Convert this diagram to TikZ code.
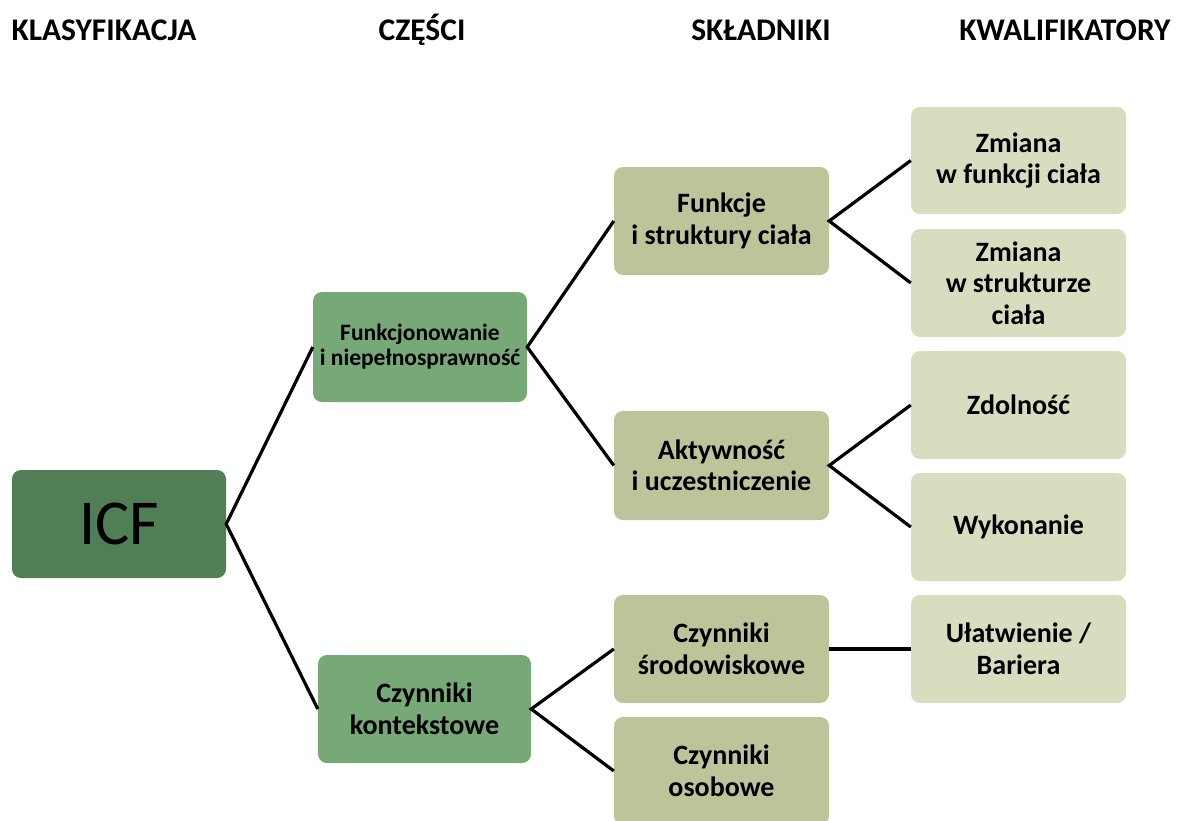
\documentclass[tikz,border=0pt]{standalone}
\usepackage{fontspec}
\setmainfont{Carlito}
\definecolor{icfgreen}{HTML}{507F55}
\definecolor{midgreen}{HTML}{77A877}
\definecolor{olive}{HTML}{BEC39A}
\definecolor{lightolive}{HTML}{D9DCBF}
\tikzset{
  box/.style={rounded corners=9pt, minimum width=214pt, minimum height=108pt, align=center, font=\fontsize{28}{31.5}\selectfont\bfseries, inner sep=1pt},
  lvlone/.style={box, fill=icfgreen, font=\fontsize{64}{70}\selectfont},
  lvltwo/.style={box, fill=midgreen},
  lvlthree/.style={box, fill=olive},
  lvlfour/.style={box, fill=lightolive},
  head/.style={font=\fontsize{31.5}{34}\selectfont\bfseries},
  link/.style={line width=3.2pt, black}
}
\begin{document}
\begin{tikzpicture}[x=1pt,y=-1pt]
\useasboundingbox (0,0) rectangle (1178,820);
\clip (0,0) rectangle (1178,820);
\fill[white] (0,0) rectangle (1178,820);
\node[head] (h1) at (104,30) {KLASYFIKACJA};
\node[head] (h2) at (422,30) {CZĘŚCI};
\node[head] (h3) at (761,30) {SKŁADNIKI};
\node[head] (h4) at (1065,30) {KWALIFIKATORY};

\node[lvlone] (icf) at (119,524) {ICF};
\node[lvltwo, minimum height=110pt, font=\fontsize{23.5}{25}\selectfont\bfseries] (fun) at (420,347) {Funkcjonowanie\\i niepełnosprawność};
\node[lvltwo, minimum width=213pt] (kon) at (424.5,709) {Czynniki\\kontekstowe};

\node[lvlthree, minimum width=215pt] (fsc) at (721.5,221) {Funkcje\\i struktury ciała};
\node[lvlthree, minimum width=215pt, minimum height=109pt] (akt) at (721.5,465.5) {Aktywność\\i uczestniczenie};
\node[lvlthree, minimum width=215pt] (sro) at (721.5,649) {Czynniki\\środowiskowe};
\node[lvlthree, minimum width=215pt] (oso) at (721.5,771) {Czynniki\\osobowe};

\node[lvlfour, minimum width=215pt, minimum height=107pt] (zf) at (1018.5,160.5) {Zmiana\\w funkcji ciała};
\node[lvlfour, minimum width=215pt] (zs) at (1018.5,283) {Zmiana\\w strukturze\\ciała};
\node[lvlfour, minimum width=215pt] (zd) at (1018.5,405) {Zdolność};
\node[lvlfour, minimum width=215pt] (wy) at (1018.5,527) {Wykonanie};
\node[lvlfour, minimum width=215pt] (ub) at (1018.5,649) {Ułatwienie /\\Bariera};

\draw[link] (fun.west) -- (icf.east) -- (kon.west);
\draw[link] (fsc.west) -- (fun.east) -- (akt.west);
\draw[link] (sro.west) -- (kon.east) -- (oso.west);
\draw[link] (zf.west) -- (fsc.east) -- (zs.west);
\draw[link] (zd.west) -- (akt.east) -- (wy.west);
\draw[link] (sro.east) -- (ub.west);
\end{tikzpicture}
\end{document}
